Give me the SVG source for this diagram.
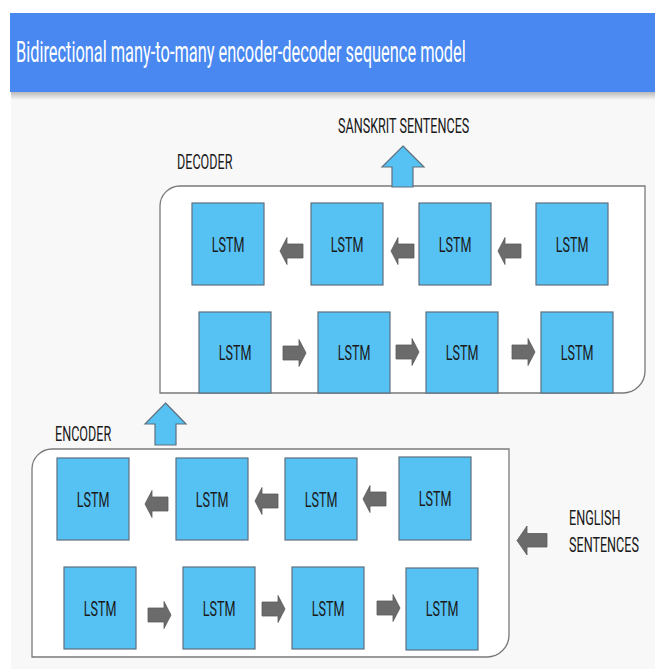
<svg xmlns="http://www.w3.org/2000/svg" width="655" height="669" viewBox="0 0 655 669">
  <defs>
    <style>
      .lstm rect { fill: #56c2f4; stroke: #5f6f7c; stroke-width: 1.2; }
      .lstm text, .label { font-family: Roboto, "Liberation Sans", sans-serif; fill: #1a1a1a; }
      .lstm text { font-size: 21px; text-anchor: middle; }
      .label { font-size: 21px; }
      .panel { fill: #ffffff; stroke: #7a7a7a; stroke-width: 1.3; }
      .flow { fill: #6b6b6b; stroke: #5a5a5a; stroke-width: 0.8; }
      .lift { fill: #56c2f4; stroke: #5f6f7c; stroke-width: 1.2; }
    </style>
    <linearGradient id="shade" x1="0" y1="0" x2="0" y2="1">
      <stop offset="0" stop-color="#b9b9b9"/>
      <stop offset="1" stop-color="#f8f8f8"/>
    </linearGradient>
    <!-- small block arrows, tip at the origin -->
    <path id="arrowL" d="M0 0 L7 -13.5 L7 -7 L23 -7 L23 7 L7 7 L7 13.5 Z"/>
    <path id="arrowR" d="M0 0 L-7 -13.5 L-7 -7 L-23 -7 L-23 7 L-7 7 L-7 13.5 Z"/>
  </defs>

  <!-- page -->
  <rect x="0" y="0" width="655" height="669" fill="#ffffff"/>
  <rect x="11" y="92" width="644" height="577" fill="#f8f8f8"/>
  <rect x="11" y="92" width="644" height="8" fill="url(#shade)"/>

  <!-- title bar (narrow lettering via horizontal scale) -->
  <g id="header">
    <rect x="10" y="13" width="645" height="79" fill="#4888f0"/>
    <text transform="translate(16 62) scale(0.565 1)" font-family="Roboto, 'Liberation Sans', sans-serif" font-size="29" fill="#ffffff">Bidirectional many-to-many encoder-decoder sequence model</text>
  </g>

  <!-- decoder container -->
  <g id="decoder">
    <path class="panel" d="M180 186 H645 V371 A22 22 0 0 1 623 393 H160 V206 A20 20 0 0 1 180 186 Z"/>
    <text class="label" transform="translate(177 169) scale(0.6 1)">DECODER</text>
  </g>

  <!-- encoder container -->
  <g id="encoder">
    <path class="panel" d="M52 449 H509 V635 A22 22 0 0 1 487 657 H32 V469 A20 20 0 0 1 52 449 Z"/>
    <text class="label" transform="translate(55 441) scale(0.6 1)">ENCODER</text>
  </g>

  <g id="sanskrit-label">
    <text class="label" transform="translate(338 133) scale(0.6 1)">SANSKRIT SENTENCES</text>
  </g>
  <g id="english-label">
    <text class="label" transform="translate(569 525) scale(0.6 1)">ENGLISH</text>
    <text class="label" transform="translate(569 552) scale(0.6 1)">SENTENCES</text>
  </g>

  <!-- decoder cells, backward row -->
  <g id="dec-b1" class="lstm"><rect x="192" y="203" width="72" height="82"/><text transform="translate(228 251.5) scale(0.6 1)">LSTM</text></g>
  <g id="dec-b2" class="lstm"><rect x="311" y="203" width="72" height="82"/><text transform="translate(347 251.5) scale(0.6 1)">LSTM</text></g>
  <g id="dec-b3" class="lstm"><rect x="419" y="203" width="72" height="82"/><text transform="translate(455 251.5) scale(0.6 1)">LSTM</text></g>
  <g id="dec-b4" class="lstm"><rect x="536" y="203" width="72" height="82"/><text transform="translate(572 251.5) scale(0.6 1)">LSTM</text></g>

  <!-- decoder cells, forward row -->
  <g id="dec-f1" class="lstm"><rect x="199" y="312" width="72" height="81"/><text transform="translate(235 360) scale(0.6 1)">LSTM</text></g>
  <g id="dec-f2" class="lstm"><rect x="318" y="312" width="72" height="81"/><text transform="translate(354 360) scale(0.6 1)">LSTM</text></g>
  <g id="dec-f3" class="lstm"><rect x="426" y="312" width="72" height="81"/><text transform="translate(462 360) scale(0.6 1)">LSTM</text></g>
  <g id="dec-f4" class="lstm"><rect x="541" y="312" width="72" height="81"/><text transform="translate(577 360) scale(0.6 1)">LSTM</text></g>

  <!-- encoder cells, backward row -->
  <g id="enc-b1" class="lstm"><rect x="57" y="458" width="72" height="82"/><text transform="translate(93 506.5) scale(0.6 1)">LSTM</text></g>
  <g id="enc-b2" class="lstm"><rect x="176" y="458" width="72" height="82"/><text transform="translate(212 506.5) scale(0.6 1)">LSTM</text></g>
  <g id="enc-b3" class="lstm"><rect x="285" y="458" width="72" height="82"/><text transform="translate(321 506.5) scale(0.6 1)">LSTM</text></g>
  <g id="enc-b4" class="lstm"><rect x="399" y="457" width="72" height="83"/><text transform="translate(435 506) scale(0.6 1)">LSTM</text></g>

  <!-- encoder cells, forward row -->
  <g id="enc-f1" class="lstm"><rect x="64" y="567" width="72" height="82"/><text transform="translate(100 615.5) scale(0.6 1)">LSTM</text></g>
  <g id="enc-f2" class="lstm"><rect x="183" y="567" width="72" height="82"/><text transform="translate(219 615.5) scale(0.6 1)">LSTM</text></g>
  <g id="enc-f3" class="lstm"><rect x="292" y="567" width="72" height="82"/><text transform="translate(328 615.5) scale(0.6 1)">LSTM</text></g>
  <g id="enc-f4" class="lstm"><rect x="406" y="568" width="72" height="82"/><text transform="translate(442 616) scale(0.6 1)">LSTM</text></g>

  <!-- connectors -->
  <g id="connectors">
    <!-- decoder backward row -->
    <use href="#arrowL" class="flow" x="280" y="251"/>
    <use href="#arrowL" class="flow" x="391" y="251"/>
    <use href="#arrowL" class="flow" x="498" y="251"/>
    <!-- decoder forward row -->
    <use href="#arrowR" class="flow" x="306" y="353"/>
    <use href="#arrowR" class="flow" x="419" y="352"/>
    <use href="#arrowR" class="flow" x="535" y="352"/>
    <!-- encoder backward row -->
    <use href="#arrowL" class="flow" x="145" y="504"/>
    <use href="#arrowL" class="flow" x="255" y="501"/>
    <use href="#arrowL" class="flow" x="363" y="499"/>
    <!-- encoder forward row -->
    <use href="#arrowR" class="flow" x="171" y="615"/>
    <use href="#arrowR" class="flow" x="285" y="609"/>
    <use href="#arrowR" class="flow" x="400" y="608"/>
    <!-- English input -->
    <path class="flow" d="M517 540.5 L527 526 L527 533.5 L547 533.5 L547 547 L527 547 L527 555 Z"/>
    <!-- encoder to decoder -->
    <path class="lift" d="M165.5 403 L186 424 L176 424 L176 445 L155 445 L155 424 L145 424 Z"/>
    <!-- decoder output -->
    <path class="lift" d="M403 146 L424 167 L413 167 L413 187 L392 187 L392 167 L382 167 Z"/>
  </g>
</svg>
